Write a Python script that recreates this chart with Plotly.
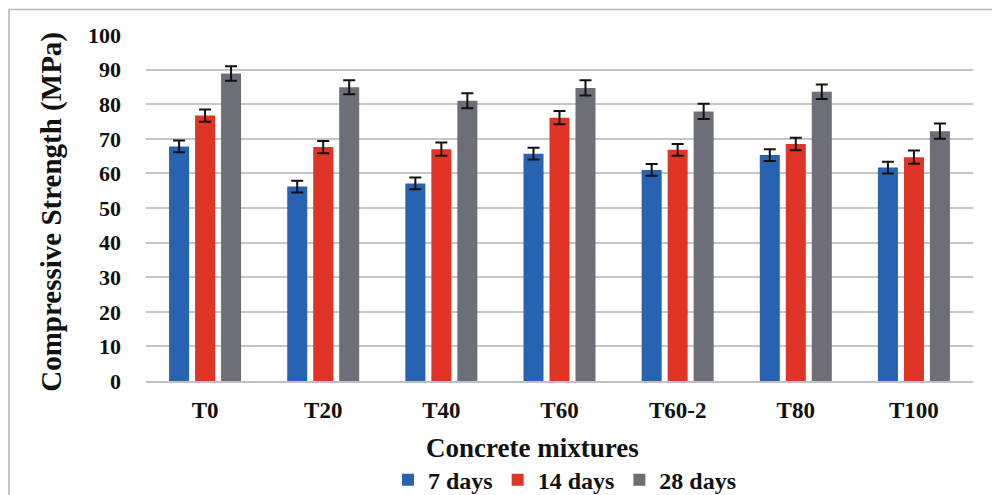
import plotly.graph_objects as go

categories = ["T0", "T20", "T40", "T60", "T60-2", "T80", "T100"]
series_names = ["7 days", "14 days", "28 days"]
days7 = [67.8, 56.2, 57.1, 65.7, 61.0, 65.3, 61.7]
days14 = [76.7, 67.6, 67.0, 76.1, 66.8, 68.5, 64.7]
days28 = [88.9, 84.9, 81.0, 84.7, 77.9, 83.6, 72.2]
err7 = [1.7, 1.7, 1.7, 1.7, 1.7, 1.7, 1.7]
err14 = [1.8, 1.8, 1.9, 1.9, 1.7, 1.8, 1.9]
err28 = [2.1, 2.0, 2.2, 2.2, 2.2, 2.1, 2.2]
colors = ["#2962b0", "#e03526", "#6e6e79"]
y_ticks = [0, 10, 20, 30, 40, 50, 60, 70, 80, 90, 100]

FONT = "Liberation Serif"
INK = "#111111"
fig = go.Figure()
for name, vals, errs, col in zip(series_names, [days7, days14, days28], [err7, err14, err28], colors):
    fig.add_trace(go.Bar(
        x=categories, y=vals, name=name, marker=dict(color=col, line=dict(width=0)),
        error_y=dict(type="data", array=errs, visible=True, color=INK, thickness=2, width=6),
    ))

# plot area in px: x 146..973, y 35.5..381 (height 345.5)
fig.update_layout(
    width=992, height=495,
    margin=dict(l=146, r=19, t=35, b=114, autoexpand=False),
    paper_bgcolor="white", plot_bgcolor="white",
    barmode="group", bargap=0.34, bargroupgap=0.23,
    font=dict(family=FONT, color=INK),
    showlegend=True,
    legend=dict(orientation="h", x=0.2926, xanchor="left", y=-0.2865, yanchor="middle",
                font=dict(family=FONT, size=24, color=INK, weight="bold"), itemwidth=30,
                traceorder="normal", tracegroupgap=0),
    xaxis=dict(
        automargin=False,
        tickfont=dict(family=FONT, size=23, color=INK, weight="bold"),
        showline=True, linecolor="#bfbfc6", linewidth=1.5, ticks="", ticklabelstandoff=8,
    ),
    yaxis=dict(
        automargin=False,
        range=[0, 100], tickvals=y_ticks,
        tickfont=dict(family=FONT, size=22, color=INK, weight="bold"),
        showgrid=True, gridcolor="#c4c4cc", gridwidth=1.5, zeroline=False,
        ticks="", ticklabelstandoff=24,
    ),
    annotations=[
        dict(text="Concrete mixtures", xref="paper", yref="paper", x=0.4675, y=(381 - 448) / 345.5,
             xanchor="center", yanchor="middle", showarrow=False,
             font=dict(family=FONT, size=27, color=INK, weight="bold")),
        dict(text="Compressive Strength (MPa)", xref="paper", yref="paper", x=(52 - 146) / 827,
             y=(381 - 212) / 345.5, xanchor="center", yanchor="middle", textangle=-90, showarrow=False,
             font=dict(family=FONT, size=29, color=INK, weight="bold")),
    ],
    shapes=[dict(type="rect", xref="paper", yref="paper", x0=-0.1657, x1=1.2, y0=-0.6, y1=1.0738,
                 line=dict(color="#b5b5b5", width=1.5), layer="below")],
)
fig.write_html("out.html", config={"displayModeBar": False},
               post_script="document.body.style.margin='0px';document.body.style.overflow='hidden';")
